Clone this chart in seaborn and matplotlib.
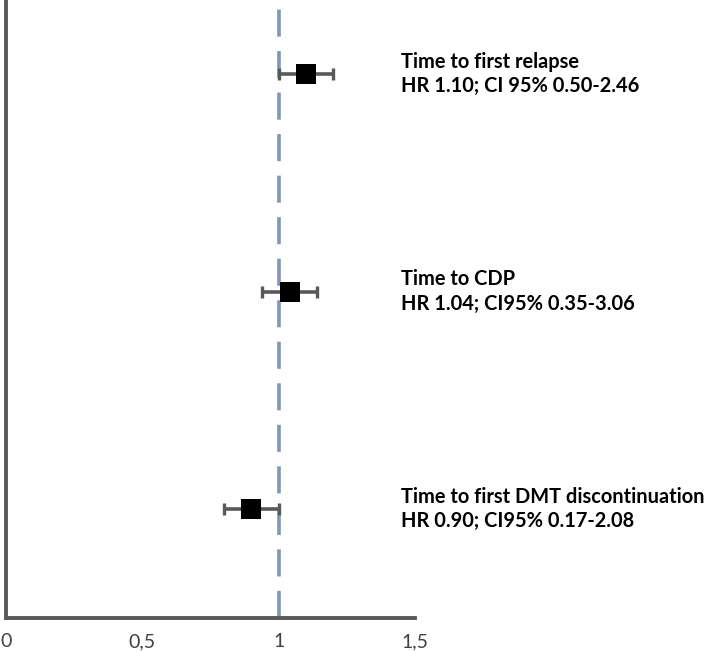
import pandas as pd
import matplotlib.pyplot as plt
import seaborn as sns

# Data
outcomes = ['Time to first relapse', 'Time to CDP', 'Time to first DMT discontinuation']
stat_labels = ['HR 1.10; CI 95% 0.50-2.46', 'HR 1.04; CI95% 0.35-3.06', 'HR 0.90; CI95% 0.17-2.08']
hr = [1.10, 1.04, 0.90]
bar_err = [0.10, 0.10, 0.10]
rows = [2.5, 1.5, 0.5]
xticks = [0, 0.5, 1, 1.5]
xtick_labels = ['0', '0,5', '1', '1,5']

df = pd.DataFrame({'outcome': outcomes, 'hr': hr, 'err': bar_err, 'row': rows})

sns.set_style('white')
plt.rcParams['font.family'] = ['Lato', 'DejaVu Sans']

fig = plt.figure(figsize=(7.09, 6.52), dpi=100)
ax = fig.add_axes([6 / 709, 34 / 652, 409 / 709, 618 / 652])

# reference line at HR = 1
ax.axvline(1, color='#7f96b8', linewidth=2.6, linestyle=(0, (7.5, 4)), zorder=1)

# error bars
ax.errorbar(df['hr'], df['row'], xerr=df['err'], fmt='none', ecolor='#595959',
            elinewidth=2.6, capsize=4, capthick=2.4, zorder=2)

# squares
sns.scatterplot(data=df, x='hr', y='row', marker='s', s=200, color='black',
                edgecolor='black', linewidth=0, ax=ax, zorder=3, legend=False)

# annotations
for i in range(len(df)):
    ax.text(1.447, df['row'][i] + 0.056, outcomes[i], fontsize=14.4, fontweight='bold',
            ha='left', va='center', color='black', clip_on=False)
    ax.text(1.447, df['row'][i] - 0.056, stat_labels[i], fontsize=14.4, fontweight='bold',
            ha='left', va='center', color='black', clip_on=False)

ax.set_xlim(0, 1.5)
ax.set_ylim(0, 2.84)
ax.set_xticks(xticks)
ax.set_xticklabels(xtick_labels, fontsize=14, color='#404040')
ax.set_yticks([])
ax.set_xlabel('')
ax.set_ylabel('')
ax.tick_params(axis='x', length=0, pad=11)

for side in ['top', 'right']:
    ax.spines[side].set_visible(False)
for side in ['left', 'bottom']:
    ax.spines[side].set_color('#595959')
    ax.spines[side].set_linewidth(2.8)

fig.savefig('out.png', dpi=100)
